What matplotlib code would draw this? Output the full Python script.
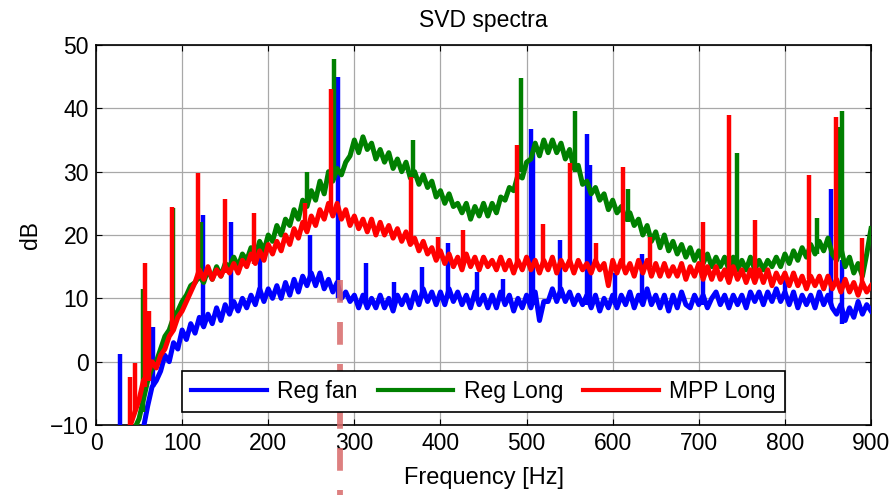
import numpy as np
import matplotlib.pyplot as plt

# frequency grid for the broadband part of the spectra (Hz)
freq = np.arange(25, 901, 5)

# Reg fan (blue), dB
reg_fan = [
    -12, -11, -12, -11, -12, -11, -10.5, -7, -4, -3,
    -1.5, 1, 0, 3, 2, 5, 3.5, 6, 4.5, 7,
    5.5, 7.5, 6, 8.5, 6.5, 9, 7.5, 9.5, 8, 10,
    8.5, 10.5, 9, 11.5, 9.5, 11.5, 10, 12, 10, 12.5,
    10.5, 13, 11, 13.5, 12, 14, 12, 14, 11.5, 13,
    11, 12.5, 10, 11, 9.5, 10.5, 8.5, 10.5, 8.5, 10,
    8.5, 10.5, 8.5, 10, 8, 10.5, 9, 10.5, 8.5, 11,
    9, 11.5, 9.5, 11, 9, 11, 9, 11.5, 9.5, 11,
    9, 10.5, 8.5, 11, 9, 10.5, 8.5, 10.5, 8.5, 11,
    9, 10.5, 8, 10, 8.5, 10.5, 8.5, 11, 6.5, 9.5,
    9.5, 11.5, 9.5, 11.5, 9.5, 11, 9, 10.5, 9, 10.5,
    8.5, 10.5, 8, 10, 8.5, 10.5, 8.5, 10.5, 9, 11,
    8.5, 10.5, 9, 11.5, 9, 10.5, 8.5, 10.5, 8, 10.5,
    8.5, 11, 9, 8.5, 10.5, 9, 10.5, 8.5, 10, 11,
    9, 10.5, 8.5, 10.5, 9, 10.5, 8.5, 11, 9.5, 11,
    9, 11, 9.5, 11.5, 9.5, 11, 9, 11, 8.5, 10.5,
    9, 10.5, 8.5, 11, 9, 10.5, 8.5, 7.5, 9, 6.5,
    8.5, 7, 9.5, 7.5, 9, 8,
]

# Reg Long (green), dB
reg_long = [
    -12, -12, -12, -11, -10.5, -9, -6, -3, -1, 0,
    2, 4, 5, 7, 8, 9.5, 10.5, 12, 12.5, 13.5,
    12.5, 14.5, 13, 15, 13.5, 15.5, 15, 16.5, 15, 17,
    16, 18, 16.5, 19, 17.5, 20, 19, 21.5, 20, 22.5,
    21.5, 24, 22.5, 25.5, 24.5, 27, 25.5, 28.5, 26.5, 30,
    28.5, 30.5, 29.5, 31.5, 32.5, 35, 33, 35.5, 33.5, 34.5,
    32, 33.5, 31.5, 33, 30.5, 32, 30, 31.5, 29, 30,
    28, 29.5, 27.5, 28.5, 26, 27, 25, 26.5, 24.5, 25,
    23.5, 25, 22.5, 24.5, 23, 25, 23, 25, 23.5, 26,
    25.5, 27.5, 27, 29.5, 29, 31.5, 32, 34.5, 32.5, 35,
    33, 35, 33, 34.5, 32, 33.5, 30.5, 31, 28, 28.5,
    26.5, 27.5, 25.5, 26.5, 24, 25.5, 23.5, 24.5, 22.5, 23.5,
    21.5, 22.5, 20, 21.5, 19, 20.5, 18, 20, 17.5, 19,
    17, 18.5, 16.5, 18, 16, 17.5, 15.5, 17, 15, 16.5,
    15, 16.5, 14.5, 16.5, 14.5, 16, 14.5, 16.5, 14.5, 16,
    14.5, 16, 15, 16.5, 15, 17, 15.5, 17.5, 16, 18,
    16.5, 18.5, 17, 19, 17.5, 19.5, 17, 16, 18, 15,
    16.5, 14, 15.5, 13.5, 17, 21,
]

# MPP Long (red), dB
mpp_long = [
    -12, -11, -11, -10, -8, -6, -3, -2, 0, -1,
    1, 2, 4, 5, 7, 8, 9.5, 11, 12.5, 14.5,
    13, 15, 13, 14.5, 13.5, 15, 14, 15.5, 14, 16,
    15, 17, 15.5, 17.5, 16, 18.5, 17, 19, 17.5, 20,
    18.5, 21, 19.5, 22, 20.5, 23, 21.5, 24, 22.5, 25,
    23, 25, 22.5, 24, 21.5, 23, 21, 22.5, 20.5, 22.5,
    20, 22, 20, 21.5, 19.5, 21, 19, 20.5, 18.5, 19.5,
    17.5, 19, 17, 18, 16, 17.5, 15.5, 17, 15, 16.5,
    14.5, 17, 15, 16.5, 14.5, 16.5, 15, 16, 14.5, 16.5,
    14.5, 16, 14, 16, 14.5, 16.5, 14.5, 16, 14, 16,
    14.5, 16.5, 14, 16, 14.5, 16, 14, 16, 14.5, 15.5,
    14, 16, 14.5, 15.5, 12, 16, 14, 16, 14, 15.5,
    13.5, 16, 14, 16, 13.5, 15.5, 13.5, 15.5, 13.5, 15,
    13.5, 15.5, 13, 15, 13.5, 15.5, 13, 15, 13, 15,
    13, 14.5, 12.5, 15, 13, 14.5, 12.5, 14.5, 12.5, 14.5,
    12.5, 14.5, 12, 14, 12.5, 14, 12, 14, 12, 13.5,
    11.5, 13.5, 12, 13.5, 11.5, 13.5, 11.5, 13, 11, 13,
    11, 12.5, 10.5, 12.5, 11, 12,
]

# narrow tonal peaks: frequency, foot, top (dB)
fan_pk_f = [28, 66, 124, 157, 190, 248, 281, 314, 346, 378, 409, 442, 473,
            505, 508, 539, 570, 574, 603, 634, 705, 800, 853, 866]
fan_pk_lo = [-10, -4, 6, 8, 10, 13, 10, 9, 9, 10, 10, 10, 10,
             9, 9, 10, 9, 9, 9, 10, 9, 10, 9, 6]
fan_pk_hi = [1.2, 5.5, 23.1, 22, 17, 20, 45, 15.6, 12.6, 15, 18.7, 14.2, 13,
             36.7, 33, 19.2, 36, 31, 14, 17, 13, 13, 27.3, 16]

long_pk_f = [54, 89, 122, 245, 276, 368, 494, 556, 618, 744, 837, 862, 866]
long_pk_lo = [-8, 6, 13, 25, 29, 29, 30, 30, 22, 15, 17, 17, 17]
long_pk_hi = [11.5, 24.3, 22, 30, 47.8, 35, 44.8, 39.5, 27.3, 33, 22.7, 37, 39.5]

mpp_pk_f = [39, 45, 57, 62, 88, 119, 150, 183, 243, 272.5, 366, 397, 426, 489,
            519, 550, 581, 612, 643, 705, 735, 765, 828, 859, 889]
mpp_pk_lo = [-10, -8, -4, -3, 5, 13, 14, 15.5, 21, 24, 18.5, 17, 15.5, 15,
             15, 15, 15, 15, 15, 14, 13, 13.5, 13, 12.5, 12]
mpp_pk_hi = [-2.4, -0.2, 15.6, 8, 24.5, 29.8, 25.7, 23.4, 25, 43, 29.2, 19.7, 20.8, 34.2,
             21.8, 31.4, 18.7, 30.7, 19.7, 22.1, 39, 22.4, 29.5, 38.6, 19.5]

marker_f = 283          # dashed marker frequency
marker_span = (12.9, -22)

plt.rcParams['font.family'] = ['Liberation Sans', 'DejaVu Sans']

fig = plt.figure(figsize=(8.94, 4.95), dpi=100)
ax = fig.add_axes([0.1074, 0.1414, 0.8669, 0.7677])

series = [
    (reg_fan, fan_pk_f, fan_pk_lo, fan_pk_hi, 'blue', 'Reg fan'),
    (reg_long, long_pk_f, long_pk_lo, long_pk_hi, 'green', 'Reg Long'),
    (mpp_long, mpp_pk_f, mpp_pk_lo, mpp_pk_hi, 'red', 'MPP Long'),
]
handles = []
for vals, pf, plo, phi, col, lab in series:
    h, = ax.plot(freq, vals, color=col, lw=3.6, label=lab, zorder=3,
                 solid_joinstyle='round')
    ax.vlines(pf, plo, phi, color=col, lw=3.2, zorder=3)
    handles.append(h)

ax.plot([marker_f, marker_f], marker_span, color='#d86a6a', lw=4.2,
        dashes=(3.9, 3.3), alpha=0.85, clip_on=False, zorder=4)

ax.set_xlim(0, 900)
ax.set_ylim(-10, 50)
ax.set_xticks(np.arange(0, 901, 100))
ax.set_yticks(np.arange(-10, 51, 10))
ax.tick_params(direction='in', top=True, right=True, labelsize=16.5,
               length=4, pad=5)
ax.grid(True, color='#a8a8a8', lw=0.9)
ax.set_axisbelow(True)
for s in ax.spines.values():
    s.set_linewidth(1.2)

ax.set_title('SVD spectra', fontsize=16.5, pad=13)
ax.set_xlabel('Frequency [Hz]', fontsize=17, labelpad=9)
ax.set_ylabel('dB', fontsize=16.5, labelpad=6)

leg = ax.legend(handles=handles, ncol=3, loc='lower left',
                bbox_to_anchor=(0.111, 0.034, 0.778, 0.116), mode='expand',
                fontsize=16.5, handlelength=3.3, handletextpad=0.45,
                fancybox=False, framealpha=1, edgecolor='black',
                borderpad=0.4, borderaxespad=0)
leg.get_frame().set_linewidth(1.2)
for lh in leg.get_lines():
    lh.set_linewidth(3.0)

fig.savefig('out.png', dpi=100)
